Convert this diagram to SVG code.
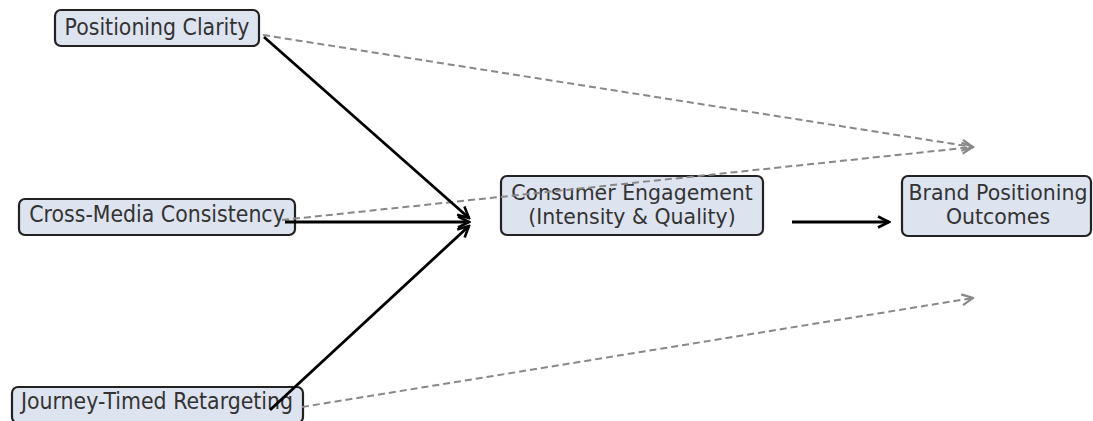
<svg xmlns="http://www.w3.org/2000/svg" width="1093" height="421" viewBox="0 0 1093 421">
  <style>
    .box { fill: #dde4ef; stroke: #222; stroke-width: 2.2; }
    .lbl { font-family: "DejaVu Sans", sans-serif; font-size: 20.5px; fill: #333; text-anchor: middle; }
    .solid { stroke: #000; stroke-width: 2.8; fill: none; }
    .dash { stroke: #888; stroke-width: 2; fill: none; stroke-dasharray: 7 4; }
  </style>
  <defs>
    <marker id="headK" viewBox="0 0 14 14" refX="12.5" refY="7" markerWidth="14" markerHeight="14" markerUnits="userSpaceOnUse" orient="auto">
      <path d="M1.5,1.5 L12.5,7 L1.5,12.5" fill="none" stroke="#000" stroke-width="2.6"/>
    </marker>
    <marker id="headG" viewBox="0 0 14 14" refX="12.5" refY="7" markerWidth="14" markerHeight="14" markerUnits="userSpaceOnUse" orient="auto">
      <path d="M1.5,1.5 L12.5,7 L1.5,12.5" fill="none" stroke="#888" stroke-width="2.2"/>
    </marker>
  </defs>

  <g id="n-clarity">
    <rect class="box" x="55" y="10" width="204" height="36" rx="6"/>
    <text class="lbl" transform="translate(157 35) scale(1 1.08)">Positioning Clarity</text>
  </g>
  <g id="n-consistency">
    <rect class="box" x="19" y="199" width="276" height="36" rx="6"/>
    <text class="lbl" transform="translate(157 222) scale(1 1.08)">Cross-Media Consistency</text>
  </g>
  <g id="n-retargeting">
    <rect class="box" x="12" y="387" width="291" height="36" rx="6"/>
    <text class="lbl" transform="translate(157 409) scale(1 1.08)">Journey-Timed Retargeting</text>
  </g>
  <g id="n-engagement">
    <rect class="box" x="501" y="176" width="262" height="59" rx="6"/>
    <text class="lbl" transform="translate(632 200) scale(1 1.03)">Consumer Engagement</text>
    <text class="lbl" transform="translate(632 224) scale(1 1.03)">(Intensity &amp; Quality)</text>
  </g>
  <g id="n-outcomes">
    <rect class="box" x="902" y="176" width="189" height="60" rx="6"/>
    <text class="lbl" transform="translate(998 200) scale(1 1.03)">Brand Positioning</text>
    <text class="lbl" transform="translate(998 224) scale(1 1.03)">Outcomes</text>
  </g>

  <g id="connectors">
    <line class="dash" x1="263" y1="35" x2="973" y2="147" marker-end="url(#headG)"/>
    <line class="dash" x1="282" y1="220" x2="973" y2="147" marker-end="url(#headG)"/>
    <line class="dash" x1="302" y1="407" x2="973" y2="298" marker-end="url(#headG)"/>
    <line class="solid" x1="264" y1="37" x2="469" y2="218" marker-end="url(#headK)"/>
    <line class="solid" x1="285" y1="222" x2="469" y2="222" marker-end="url(#headK)"/>
    <line class="solid" x1="270" y1="410" x2="469" y2="226" marker-end="url(#headK)"/>
    <line class="solid" x1="792" y1="222" x2="889" y2="222" marker-end="url(#headK)"/>
  </g>
</svg>
